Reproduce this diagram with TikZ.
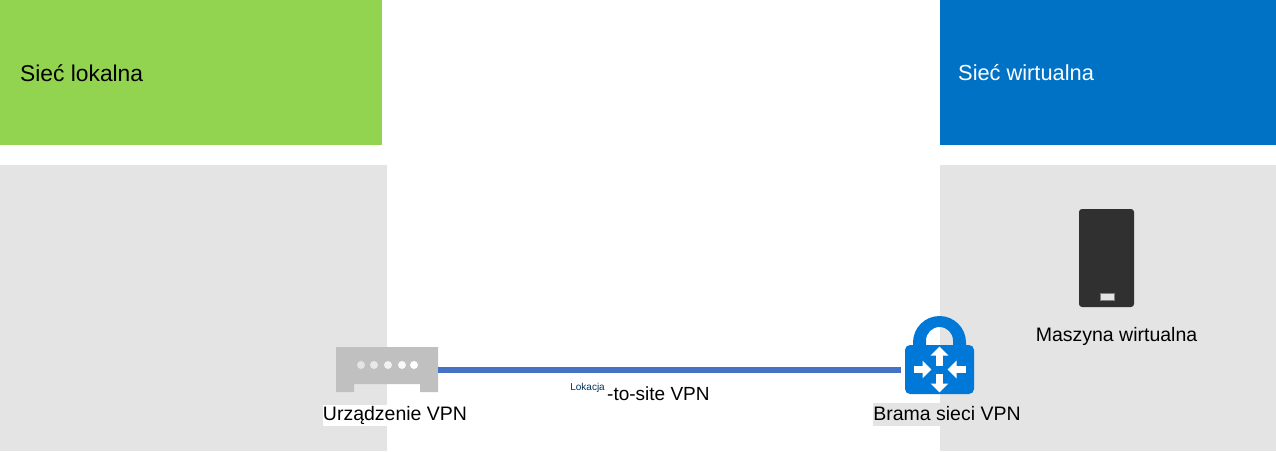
\documentclass[tikz,border=0pt]{standalone}
\usepackage{fontspec}
\setmainfont{Liberation Sans}
\usetikzlibrary{arrows.meta,positioning}
\definecolor{lanGreen}{HTML}{92D350}
\definecolor{vnetBlue}{HTML}{0072C6}
\definecolor{panelGrey}{HTML}{E4E4E4}
\definecolor{routerGrey}{HTML}{C0C0C0}
\definecolor{lockBlue}{HTML}{0078D7}
\definecolor{linkBlue}{HTML}{4472C4}
\definecolor{vmDark}{HTML}{303030}
\tikzset{panel/.style={anchor=north west,inner sep=0pt,outer sep=0pt}}
\tikzset{caption/.style={inner sep=0pt,font=\fontsize{19.5}{22}\selectfont}}
\tikzset{title/.style={anchor=west,inner sep=0pt}}
\tikzset{inarrow/.style={draw=white,line width=7pt,-{Triangle[width=17pt,length=9pt]}}}

\begin{document}
\begin{tikzpicture}[x=1pt,y=-1pt,on grid]
        \useasboundingbox (0,0) rectangle (1276,451);
        \node(lanhead)[panel,fill=lanGreen,minimum width=382pt,minimum height=145pt] at (0,0){};
        \node(vnethead)[panel,fill=vnetBlue,minimum width=336pt,minimum height=145pt] at (940,0){};
        \node(lanpanel)[panel,fill=panelGrey,minimum width=387pt,minimum height=286pt] at (0,165){};
        \node(vnetpanel)[panel,fill=panelGrey,minimum width=336pt,minimum height=286pt] at (940,165){};
        \node(lanname)[title,font=\fontsize{22.8}{25}\selectfont] at (20,73){Sieć lokalna};
        \node(vnetname)[title,white,font=\fontsize{21.8}{24}\selectfont] at (958,73){Sieć wirtualna};
        % router with its notch
        \node(router)[minimum width=102pt,minimum height=45pt,inner sep=0pt,outer sep=0pt] at (387,369.5){};
        \fill[routerGrey] (router.north west) -- (router.north east) -- (router.south east)
        -- ++(-18,0) -- ++(0,-8) -- ++(-66,0) -- ++(0,8) -- (router.south west) -- cycle;
        \foreach \dotx/\dotcol in {361/E4E4E4,374/E8E8E8,388/F2F2F2,402/F8F8F8,414/FFFFFF}{
          \definecolor{dotc}{HTML}{\dotcol}
          \fill[dotc] (\dotx,365) circle[radius=4pt];
        }
        % lock
        \node(gate)[fill=lockBlue,rounded corners=5pt,minimum width=69pt,minimum height=49pt,inner sep=0pt,outer sep=0pt] at (939.5,369.5){};
        \fill[lockBlue,even odd rule] (913,346) -- (913,342.5) arc[start angle=180,end angle=0,radius=26.5pt] -- (966,346) -- cycle
        (926,346) -- (926,340.5) arc[start angle=180,end angle=0,radius=13.5pt] -- (953,346) -- cycle;
        \draw[inarrow] ([yshift=4pt]gate.center) -- ++(0,-19);
        \draw[inarrow] ([yshift=-4pt]gate.center) -- ++(0,19);
        \draw[inarrow] ([xshift=-26pt]gate.center) -- ++(18,0);
        \draw[inarrow] ([xshift=26pt]gate.center) -- ++(-18,0);
        \draw[linkBlue,line width=6pt,shorten >=4pt] (router) -- (gate);
        % virtual machine
        \node(vm)[fill=vmDark,rounded corners=3pt,minimum width=55pt,minimum height=98pt,inner sep=0pt,outer sep=0pt] at (1106.5,258){};
        \node(vmslot)[fill=panelGrey,draw=gray,line width=.6pt,minimum width=14pt,minimum height=7pt,inner sep=0pt] at (1107,296.5){};
        \node(routerlabel)[caption,fill=white,minimum height=21pt] at (395,415.5){Urządzenie VPN};
        \node(gatelabel)[caption,fill=panelGrey,minimum height=23pt,minimum width=146pt] at (947,414){Brama sieci VPN};
        \node(vmlabel)[caption] at (1116.5,336){Maszyna wirtualna};
        \node(linklabel)[caption,anchor=west,font=\fontsize{19}{22}\selectfont] at (607,393.5){-to-site VPN};
        \node(linkprefix)[inner sep=0pt,anchor=east,text=vnetBlue!45!black,font=\fontsize{10}{12}\selectfont] at (605,388){Lokacja};
      \end{tikzpicture}
\end{document}
